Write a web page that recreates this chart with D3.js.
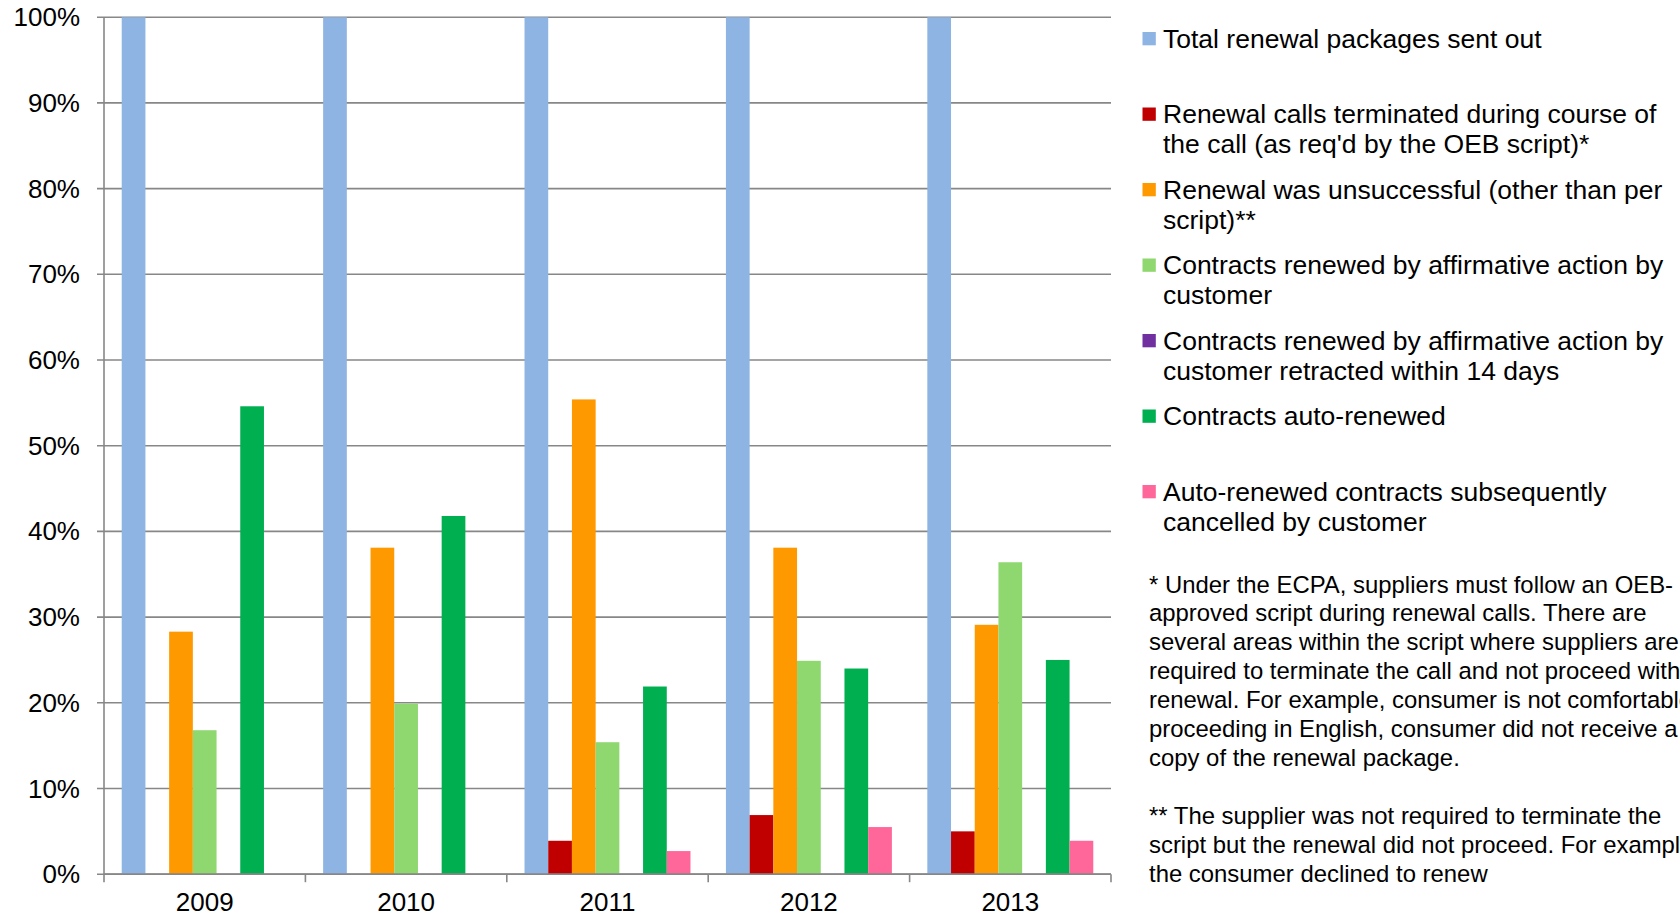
<!DOCTYPE html>
<html>
<head>
<meta charset="utf-8">
<script src="https://cdn.jsdelivr.net/npm/d3@7/dist/d3.min.js"></script>
<style>
  html, body { margin: 0; padding: 0; background: #ffffff; }
  svg { display: block; font-family: "Liberation Sans", Arial, sans-serif; }
</style>
</head>
<body>
<svg id="chart" width="1680" height="917"></svg>
<script>
// Renewal outcomes as a share of renewal packages sent out, by year
const years = ["2009", "2010", "2011", "2012", "2013"];

const totalSent        = [100, 100, 100, 100, 100];
const callsTerminated  = [null, null, 3.9, 6.9, 5.0];
const unsuccessful     = [28.3, 38.1, 55.4, 38.1, 29.1];
const renewedAffirm    = [16.8, 19.9, 15.4, 24.9, 36.4];
const affirmRetracted  = [null, null, null, null, null];
const autoRenewed      = [54.6, 41.8, 21.9, 24.0, 25.0];
const autoCancelled    = [null, null, 2.7, 5.5, 3.9];

const yTicks = [0, 10, 20, 30, 40, 50, 60, 70, 80, 90, 100];

const seriesLabels = [
  ["Total renewal packages sent out"],
  ["Renewal calls terminated during course of", "the call (as req'd by the OEB script)*"],
  ["Renewal was unsuccessful (other than per", "script)**"],
  ["Contracts renewed by affirmative action by", "customer"],
  ["Contracts renewed by affirmative action by", "customer retracted within 14 days"],
  ["Contracts auto-renewed"],
  ["Auto-renewed contracts subsequently", "cancelled by customer"]
];
const seriesColors = ["#8eb4e3", "#c00000", "#ff9900", "#8fd76f", "#7030a0", "#00af50", "#ff6699"];

const footnotes = [
  ["* Under the ECPA, suppliers must follow an OEB-",
   "approved script during renewal calls. There are",
   "several areas within the script where suppliers are",
   "required to terminate the call and not proceed with",
   "renewal. For example, consumer is not comfortable",
   "proceeding in English, consumer did not receive a",
   "copy of the renewal package."],
  ["** The supplier was not required to terminate the",
   "script but the renewal did not proceed. For example,",
   "the consumer declined to renew"]
];

const seriesValues = [totalSent, callsTerminated, unsuccessful, renewedAffirm,
                      affirmRetracted, autoRenewed, autoCancelled];

const svg = d3.select("#chart");
const plot = { left: 104, right: 1111, top: 17.2, bottom: 874.2 };
const gridColor = "#878787";

const x0 = d3.scaleBand().domain(years).range([plot.left, plot.right]).padding(0);
const groupPad = x0.bandwidth() * 0.088;
const x1 = d3.scaleBand().domain(d3.range(seriesValues.length))
  .range([groupPad, x0.bandwidth() - groupPad]).padding(0);
const y = d3.scaleLinear().domain([0, 100]).range([plot.bottom, plot.top]);

// horizontal gridlines with left tick stubs
svg.append("g").selectAll("line").data(yTicks).join("line")
  .attr("x1", plot.left - 7).attr("x2", plot.right)
  .attr("y1", d => y(d)).attr("y2", d => y(d))
  .attr("stroke", gridColor).attr("stroke-width", 1.6);

// y tick labels
svg.append("g").selectAll("text").data(yTicks).join("text")
  .attr("x", 80).attr("y", d => y(d))
  .attr("text-anchor", "end").attr("dominant-baseline", "central")
  .attr("font-size", "26px").attr("fill", "#000")
  .text(d => d + "%");

// bars
const groups = svg.append("g").selectAll("g").data(years).join("g")
  .attr("transform", d => `translate(${x0(d)},0)`);
groups.selectAll("rect")
  .data((yr, i) => seriesValues.map((vals, s) => ({ s, v: vals[i] })).filter(d => d.v != null))
  .join("rect")
  .attr("x", d => x1(d.s))
  .attr("width", x1.bandwidth())
  .attr("y", d => y(d.v))
  .attr("height", d => y(0) - y(d.v))
  .attr("fill", d => seriesColors[d.s]);

// y axis line
svg.append("line")
  .attr("x1", plot.left).attr("x2", plot.left)
  .attr("y1", plot.top).attr("y2", plot.bottom)
  .attr("stroke", gridColor).attr("stroke-width", 1.6);

// x axis line and category boundary ticks
svg.append("line")
  .attr("x1", plot.left).attr("x2", plot.right)
  .attr("y1", plot.bottom).attr("y2", plot.bottom)
  .attr("stroke", gridColor).attr("stroke-width", 1.8);
const boundaries = years.map(d => x0(d)).concat([plot.right]);
svg.append("g").selectAll("line").data(boundaries).join("line")
  .attr("x1", d => d).attr("x2", d => d)
  .attr("y1", plot.bottom).attr("y2", plot.bottom + 8)
  .attr("stroke", gridColor).attr("stroke-width", 1.6);

// year labels
svg.append("g").selectAll("text").data(years).join("text")
  .attr("x", d => x0(d) + x0.bandwidth() / 2).attr("y", 911)
  .attr("text-anchor", "middle")
  .attr("font-size", "26px").attr("fill", "#000")
  .text(d => d);

// legend
const legend = svg.append("g");
const legendTop = 38.6, legendStep = 75.5, lineH = 30;
seriesLabels.forEach((lines, i) => {
  const cy = legendTop + legendStep * i;
  legend.append("rect")
    .attr("x", 1142.5).attr("y", cy - 6.6)
    .attr("width", 13.3).attr("height", 13.3)
    .attr("fill", seriesColors[i]);
  lines.forEach((ln, j) => {
    legend.append("text")
      .attr("x", 1163).attr("y", cy + j * lineH)
      .attr("dominant-baseline", "central")
      .attr("font-size", "26.5px").attr("fill", "#000")
      .text(ln);
  });
});

// footnotes
const notes = svg.append("g");
const noteStarts = [584, 815.4], noteLineH = 28.9;
footnotes.forEach((lines, i) => {
  lines.forEach((ln, j) => {
    notes.append("text")
      .attr("x", 1149).attr("y", noteStarts[i] + j * noteLineH)
      .attr("dominant-baseline", "central")
      .attr("font-size", "23.9px").attr("fill", "#000")
      .text(ln);
  });
});
</script>
</body>
</html>
